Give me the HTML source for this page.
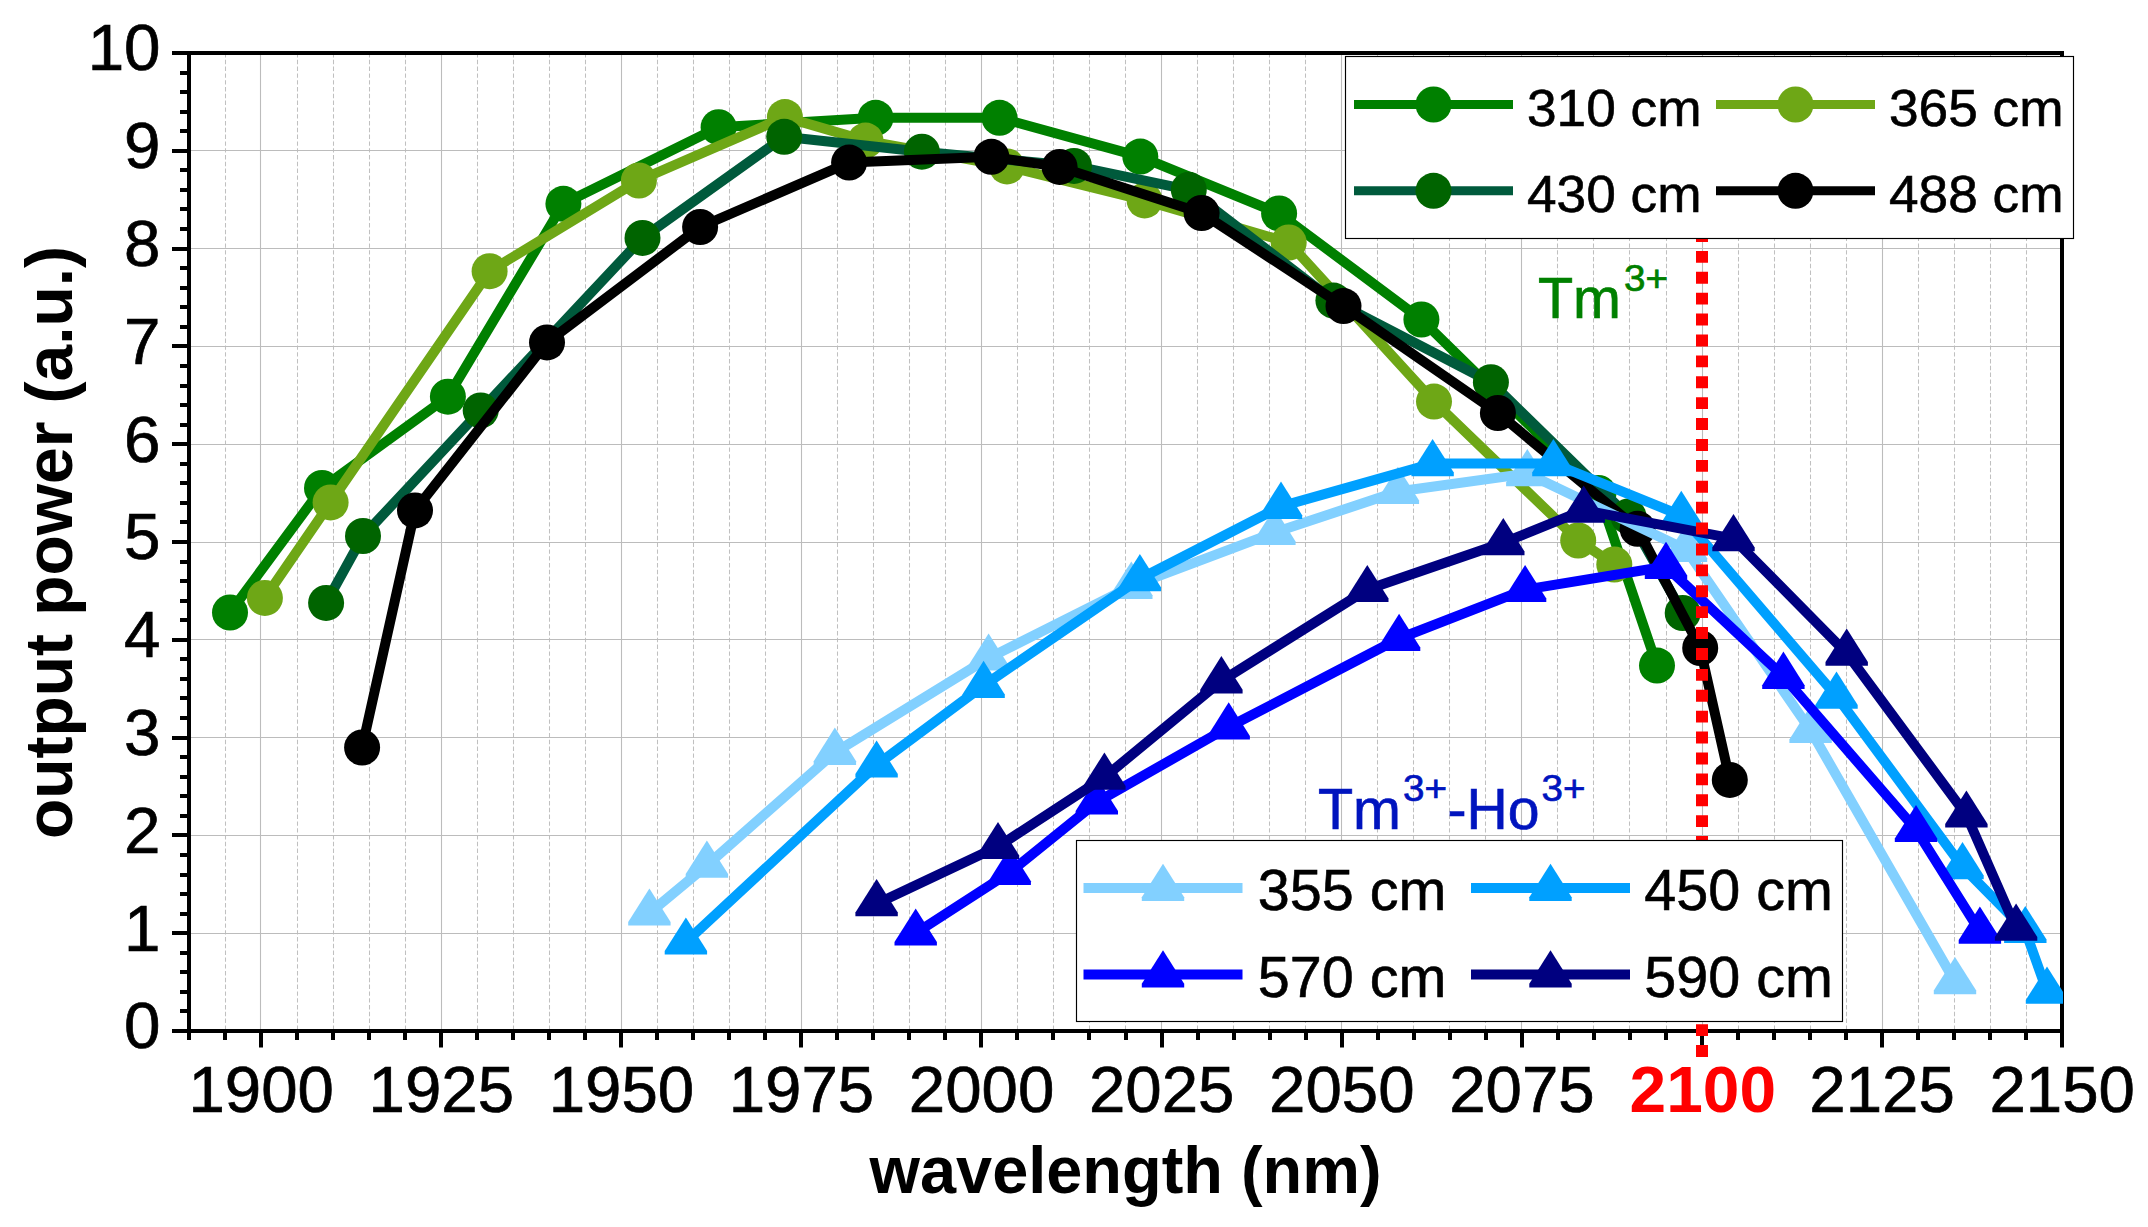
<!DOCTYPE html>
<html lang="en"><head><meta charset="utf-8"><title>output power vs wavelength</title>
<style>html,body{margin:0;padding:0;background:#fff}svg{display:block}text{font-family:"Liberation Sans",sans-serif;fill:#000}.tk{font-size:65.5px;stroke:#000;stroke-width:.7px}.lg{font-size:52px;stroke:#000;stroke-width:.6px}.lg2{font-size:57px;stroke:#000;stroke-width:.6px}.b{font-weight:bold}</style></head><body>
<svg width="2148" height="1227" viewBox="0 0 2148 1227">
<rect width="2148" height="1227" fill="#fff"/>
<defs><clipPath id="pc"><rect x="189.0" y="53.0" width="1874.0" height="978.0"/></clipPath></defs>
<g stroke="#c0c0c0" stroke-width="1.05" stroke-dasharray="4.4 2.4" fill="none">
<line x1="225.5" y1="53.0" x2="225.5" y2="1031.0"/>
<line x1="297.5" y1="53.0" x2="297.5" y2="1031.0"/>
<line x1="333.5" y1="53.0" x2="333.5" y2="1031.0"/>
<line x1="369.5" y1="53.0" x2="369.5" y2="1031.0"/>
<line x1="405.5" y1="53.0" x2="405.5" y2="1031.0"/>
<line x1="477.5" y1="53.0" x2="477.5" y2="1031.0"/>
<line x1="513.5" y1="53.0" x2="513.5" y2="1031.0"/>
<line x1="549.5" y1="53.0" x2="549.5" y2="1031.0"/>
<line x1="585.5" y1="53.0" x2="585.5" y2="1031.0"/>
<line x1="657.5" y1="53.0" x2="657.5" y2="1031.0"/>
<line x1="693.5" y1="53.0" x2="693.5" y2="1031.0"/>
<line x1="729.5" y1="53.0" x2="729.5" y2="1031.0"/>
<line x1="765.5" y1="53.0" x2="765.5" y2="1031.0"/>
<line x1="837.5" y1="53.0" x2="837.5" y2="1031.0"/>
<line x1="873.5" y1="53.0" x2="873.5" y2="1031.0"/>
<line x1="909.5" y1="53.0" x2="909.5" y2="1031.0"/>
<line x1="945.5" y1="53.0" x2="945.5" y2="1031.0"/>
<line x1="1017.5" y1="53.0" x2="1017.5" y2="1031.0"/>
<line x1="1053.5" y1="53.0" x2="1053.5" y2="1031.0"/>
<line x1="1089.5" y1="53.0" x2="1089.5" y2="1031.0"/>
<line x1="1125.5" y1="53.0" x2="1125.5" y2="1031.0"/>
<line x1="1197.5" y1="53.0" x2="1197.5" y2="1031.0"/>
<line x1="1233.5" y1="53.0" x2="1233.5" y2="1031.0"/>
<line x1="1269.5" y1="53.0" x2="1269.5" y2="1031.0"/>
<line x1="1305.5" y1="53.0" x2="1305.5" y2="1031.0"/>
<line x1="1377.5" y1="53.0" x2="1377.5" y2="1031.0"/>
<line x1="1413.5" y1="53.0" x2="1413.5" y2="1031.0"/>
<line x1="1449.5" y1="53.0" x2="1449.5" y2="1031.0"/>
<line x1="1485.5" y1="53.0" x2="1485.5" y2="1031.0"/>
<line x1="1557.5" y1="53.0" x2="1557.5" y2="1031.0"/>
<line x1="1593.5" y1="53.0" x2="1593.5" y2="1031.0"/>
<line x1="1629.5" y1="53.0" x2="1629.5" y2="1031.0"/>
<line x1="1666.5" y1="53.0" x2="1666.5" y2="1031.0"/>
<line x1="1738.5" y1="53.0" x2="1738.5" y2="1031.0"/>
<line x1="1774.5" y1="53.0" x2="1774.5" y2="1031.0"/>
<line x1="1810.5" y1="53.0" x2="1810.5" y2="1031.0"/>
<line x1="1846.5" y1="53.0" x2="1846.5" y2="1031.0"/>
<line x1="1918.5" y1="53.0" x2="1918.5" y2="1031.0"/>
<line x1="1954.5" y1="53.0" x2="1954.5" y2="1031.0"/>
<line x1="1990.5" y1="53.0" x2="1990.5" y2="1031.0"/>
<line x1="2026.5" y1="53.0" x2="2026.5" y2="1031.0"/>
</g>
<g stroke="#bcbcbc" stroke-width="1.1" fill="none">
<line x1="260.5" y1="53.0" x2="260.5" y2="1031.0"/>
<line x1="441.5" y1="53.0" x2="441.5" y2="1031.0"/>
<line x1="621.5" y1="53.0" x2="621.5" y2="1031.0"/>
<line x1="801.5" y1="53.0" x2="801.5" y2="1031.0"/>
<line x1="981.5" y1="53.0" x2="981.5" y2="1031.0"/>
<line x1="1161.5" y1="53.0" x2="1161.5" y2="1031.0"/>
<line x1="1341.5" y1="53.0" x2="1341.5" y2="1031.0"/>
<line x1="1521.5" y1="53.0" x2="1521.5" y2="1031.0"/>
<line x1="1702.5" y1="53.0" x2="1702.5" y2="1031.0"/>
<line x1="1882.5" y1="53.0" x2="1882.5" y2="1031.0"/>
<line x1="189.0" y1="933.5" x2="2062.0" y2="933.5"/>
<line x1="189.0" y1="835.5" x2="2062.0" y2="835.5"/>
<line x1="189.0" y1="737.5" x2="2062.0" y2="737.5"/>
<line x1="189.0" y1="639.5" x2="2062.0" y2="639.5"/>
<line x1="189.0" y1="542.5" x2="2062.0" y2="542.5"/>
<line x1="189.0" y1="444.5" x2="2062.0" y2="444.5"/>
<line x1="189.0" y1="346.5" x2="2062.0" y2="346.5"/>
<line x1="189.0" y1="248.5" x2="2062.0" y2="248.5"/>
<line x1="189.0" y1="150.5" x2="2062.0" y2="150.5"/>
</g>
<g stroke="#000" fill="none">
<rect x="189.0" y="53.0" width="1873.0" height="978.0" stroke-width="4"/>
<g stroke-width="4">
<line x1="189" y1="1031.0" x2="189" y2="1040.0"/>
<line x1="225" y1="1031.0" x2="225" y2="1040.0"/>
<line x1="261" y1="1031.0" x2="261" y2="1047.5"/>
<line x1="297" y1="1031.0" x2="297" y2="1040.0"/>
<line x1="333" y1="1031.0" x2="333" y2="1040.0"/>
<line x1="369" y1="1031.0" x2="369" y2="1040.0"/>
<line x1="405" y1="1031.0" x2="405" y2="1040.0"/>
<line x1="441" y1="1031.0" x2="441" y2="1047.5"/>
<line x1="477" y1="1031.0" x2="477" y2="1040.0"/>
<line x1="513" y1="1031.0" x2="513" y2="1040.0"/>
<line x1="549" y1="1031.0" x2="549" y2="1040.0"/>
<line x1="585" y1="1031.0" x2="585" y2="1040.0"/>
<line x1="621" y1="1031.0" x2="621" y2="1047.5"/>
<line x1="657" y1="1031.0" x2="657" y2="1040.0"/>
<line x1="693" y1="1031.0" x2="693" y2="1040.0"/>
<line x1="729" y1="1031.0" x2="729" y2="1040.0"/>
<line x1="765" y1="1031.0" x2="765" y2="1040.0"/>
<line x1="801" y1="1031.0" x2="801" y2="1047.5"/>
<line x1="837" y1="1031.0" x2="837" y2="1040.0"/>
<line x1="873" y1="1031.0" x2="873" y2="1040.0"/>
<line x1="909" y1="1031.0" x2="909" y2="1040.0"/>
<line x1="945" y1="1031.0" x2="945" y2="1040.0"/>
<line x1="981" y1="1031.0" x2="981" y2="1047.5"/>
<line x1="1017" y1="1031.0" x2="1017" y2="1040.0"/>
<line x1="1053" y1="1031.0" x2="1053" y2="1040.0"/>
<line x1="1089" y1="1031.0" x2="1089" y2="1040.0"/>
<line x1="1126" y1="1031.0" x2="1126" y2="1040.0"/>
<line x1="1162" y1="1031.0" x2="1162" y2="1047.5"/>
<line x1="1198" y1="1031.0" x2="1198" y2="1040.0"/>
<line x1="1234" y1="1031.0" x2="1234" y2="1040.0"/>
<line x1="1270" y1="1031.0" x2="1270" y2="1040.0"/>
<line x1="1306" y1="1031.0" x2="1306" y2="1040.0"/>
<line x1="1342" y1="1031.0" x2="1342" y2="1047.5"/>
<line x1="1378" y1="1031.0" x2="1378" y2="1040.0"/>
<line x1="1414" y1="1031.0" x2="1414" y2="1040.0"/>
<line x1="1450" y1="1031.0" x2="1450" y2="1040.0"/>
<line x1="1486" y1="1031.0" x2="1486" y2="1040.0"/>
<line x1="1522" y1="1031.0" x2="1522" y2="1047.5"/>
<line x1="1558" y1="1031.0" x2="1558" y2="1040.0"/>
<line x1="1594" y1="1031.0" x2="1594" y2="1040.0"/>
<line x1="1630" y1="1031.0" x2="1630" y2="1040.0"/>
<line x1="1666" y1="1031.0" x2="1666" y2="1040.0"/>
<line x1="1702" y1="1031.0" x2="1702" y2="1047.5"/>
<line x1="1738" y1="1031.0" x2="1738" y2="1040.0"/>
<line x1="1774" y1="1031.0" x2="1774" y2="1040.0"/>
<line x1="1810" y1="1031.0" x2="1810" y2="1040.0"/>
<line x1="1846" y1="1031.0" x2="1846" y2="1040.0"/>
<line x1="1882" y1="1031.0" x2="1882" y2="1047.5"/>
<line x1="1918" y1="1031.0" x2="1918" y2="1040.0"/>
<line x1="1954" y1="1031.0" x2="1954" y2="1040.0"/>
<line x1="1990" y1="1031.0" x2="1990" y2="1040.0"/>
<line x1="2026" y1="1031.0" x2="2026" y2="1040.0"/>
<line x1="2062" y1="1031.0" x2="2062" y2="1047.5"/>
<line x1="189.0" y1="1031" x2="172.0" y2="1031"/>
<line x1="189.0" y1="1011" x2="180.0" y2="1011"/>
<line x1="189.0" y1="992" x2="180.0" y2="992"/>
<line x1="189.0" y1="972" x2="180.0" y2="972"/>
<line x1="189.0" y1="953" x2="180.0" y2="953"/>
<line x1="189.0" y1="933" x2="172.0" y2="933"/>
<line x1="189.0" y1="914" x2="180.0" y2="914"/>
<line x1="189.0" y1="894" x2="180.0" y2="894"/>
<line x1="189.0" y1="875" x2="180.0" y2="875"/>
<line x1="189.0" y1="855" x2="180.0" y2="855"/>
<line x1="189.0" y1="835" x2="172.0" y2="835"/>
<line x1="189.0" y1="816" x2="180.0" y2="816"/>
<line x1="189.0" y1="796" x2="180.0" y2="796"/>
<line x1="189.0" y1="777" x2="180.0" y2="777"/>
<line x1="189.0" y1="757" x2="180.0" y2="757"/>
<line x1="189.0" y1="738" x2="172.0" y2="738"/>
<line x1="189.0" y1="718" x2="180.0" y2="718"/>
<line x1="189.0" y1="698" x2="180.0" y2="698"/>
<line x1="189.0" y1="679" x2="180.0" y2="679"/>
<line x1="189.0" y1="659" x2="180.0" y2="659"/>
<line x1="189.0" y1="640" x2="172.0" y2="640"/>
<line x1="189.0" y1="620" x2="180.0" y2="620"/>
<line x1="189.0" y1="601" x2="180.0" y2="601"/>
<line x1="189.0" y1="581" x2="180.0" y2="581"/>
<line x1="189.0" y1="562" x2="180.0" y2="562"/>
<line x1="189.0" y1="542" x2="172.0" y2="542"/>
<line x1="189.0" y1="522" x2="180.0" y2="522"/>
<line x1="189.0" y1="503" x2="180.0" y2="503"/>
<line x1="189.0" y1="483" x2="180.0" y2="483"/>
<line x1="189.0" y1="464" x2="180.0" y2="464"/>
<line x1="189.0" y1="444" x2="172.0" y2="444"/>
<line x1="189.0" y1="425" x2="180.0" y2="425"/>
<line x1="189.0" y1="405" x2="180.0" y2="405"/>
<line x1="189.0" y1="386" x2="180.0" y2="386"/>
<line x1="189.0" y1="366" x2="180.0" y2="366"/>
<line x1="189.0" y1="346" x2="172.0" y2="346"/>
<line x1="189.0" y1="327" x2="180.0" y2="327"/>
<line x1="189.0" y1="307" x2="180.0" y2="307"/>
<line x1="189.0" y1="288" x2="180.0" y2="288"/>
<line x1="189.0" y1="268" x2="180.0" y2="268"/>
<line x1="189.0" y1="249" x2="172.0" y2="249"/>
<line x1="189.0" y1="229" x2="180.0" y2="229"/>
<line x1="189.0" y1="209" x2="180.0" y2="209"/>
<line x1="189.0" y1="190" x2="180.0" y2="190"/>
<line x1="189.0" y1="170" x2="180.0" y2="170"/>
<line x1="189.0" y1="151" x2="172.0" y2="151"/>
<line x1="189.0" y1="131" x2="180.0" y2="131"/>
<line x1="189.0" y1="112" x2="180.0" y2="112"/>
<line x1="189.0" y1="92" x2="180.0" y2="92"/>
<line x1="189.0" y1="73" x2="180.0" y2="73"/>
<line x1="189.0" y1="53" x2="172.0" y2="53"/>
</g></g>
<g clip-path="url(#pc)">
<polyline points="230.0,612.5 322.0,488.0 447.9,396.7 563.4,203.8 718.6,127.2 875.6,117.8 999.5,117.8 1140.3,156.6 1279.1,213.4 1421.4,319.5 1598.5,492.9 1657.0,665.6" fill="none" stroke="#008000" stroke-width="10" stroke-linejoin="round"/>
<g fill="#008000"><circle cx="230.0" cy="612.5" r="18"/><circle cx="322.0" cy="488.0" r="18"/><circle cx="447.9" cy="396.7" r="18"/><circle cx="563.4" cy="203.8" r="18"/><circle cx="718.6" cy="127.2" r="18"/><circle cx="875.6" cy="117.8" r="18"/><circle cx="999.5" cy="117.8" r="18"/><circle cx="1140.3" cy="156.6" r="18"/><circle cx="1279.1" cy="213.4" r="18"/><circle cx="1421.4" cy="319.5" r="18"/><circle cx="1598.5" cy="492.9" r="18"/><circle cx="1657.0" cy="665.6" r="18"/></g>
<polyline points="264.9,597.9 330.6,502.4 489.6,271.2 638.9,180.5 784.9,117.1 865.5,140.6 1007.0,166.4 1144.6,200.4 1288.7,242.5 1434.0,401.6 1578.2,540.5 1614.3,564.5" fill="none" stroke="#6ea716" stroke-width="10" stroke-linejoin="round"/>
<g fill="#6ea716"><circle cx="264.9" cy="597.9" r="18"/><circle cx="330.6" cy="502.4" r="18"/><circle cx="489.6" cy="271.2" r="18"/><circle cx="638.9" cy="180.5" r="18"/><circle cx="784.9" cy="117.1" r="18"/><circle cx="865.5" cy="140.6" r="18"/><circle cx="1007.0" cy="166.4" r="18"/><circle cx="1144.6" cy="200.4" r="18"/><circle cx="1288.7" cy="242.5" r="18"/><circle cx="1434.0" cy="401.6" r="18"/><circle cx="1578.2" cy="540.5" r="18"/><circle cx="1614.3" cy="564.5" r="18"/></g>
<polyline points="326.1,602.9 363.0,536.0 480.7,410.4 642.5,237.9 784.2,136.8 921.9,151.7 1074.0,165.9 1188.8,189.8 1333.4,300.6 1490.9,382.2 1628.5,516.5 1682.7,613.0" fill="none" stroke="#005a3c" stroke-width="10" stroke-linejoin="round"/>
<g fill="#006400"><circle cx="326.1" cy="602.9" r="18"/><circle cx="363.0" cy="536.0" r="18"/><circle cx="480.7" cy="410.4" r="18"/><circle cx="642.5" cy="237.9" r="18"/><circle cx="784.2" cy="136.8" r="18"/><circle cx="921.9" cy="151.7" r="18"/><circle cx="1074.0" cy="165.9" r="18"/><circle cx="1188.8" cy="189.8" r="18"/><circle cx="1333.4" cy="300.6" r="18"/><circle cx="1490.9" cy="382.2" r="18"/><circle cx="1628.5" cy="516.5" r="18"/><circle cx="1682.7" cy="613.0" r="18"/></g>
<polyline points="362.1,747.5 415.0,510.4 547.0,342.4 700.1,227.0 849.1,162.6 991.4,156.8 1059.6,166.9 1201.6,213.0 1343.5,306.1 1497.9,413.0 1637.6,528.8 1700.2,648.0 1729.8,779.9" fill="none" stroke="#000000" stroke-width="10" stroke-linejoin="round"/>
<g fill="#000000"><circle cx="362.1" cy="747.5" r="18"/><circle cx="415.0" cy="510.4" r="18"/><circle cx="547.0" cy="342.4" r="18"/><circle cx="700.1" cy="227.0" r="18"/><circle cx="849.1" cy="162.6" r="18"/><circle cx="991.4" cy="156.8" r="18"/><circle cx="1059.6" cy="166.9" r="18"/><circle cx="1201.6" cy="213.0" r="18"/><circle cx="1343.5" cy="306.1" r="18"/><circle cx="1497.9" cy="413.0" r="18"/><circle cx="1637.6" cy="528.8" r="18"/><circle cx="1700.2" cy="648.0" r="18"/><circle cx="1729.8" cy="779.9" r="18"/></g>
<polyline points="649.4,913.1 706.9,865.3 834.9,752.4 988.6,658.1 1131.3,586.4 1274.4,532.6 1397.9,491.5 1527.3,473.6 1686.0,549.4 1810.6,730.5 1955.0,981.7" fill="none" stroke="#82d0ff" stroke-width="10" stroke-linejoin="round"/>
<g fill="#82d0ff"><polygon points="649.4,888.4 670.6,922.0 670.6,925.6 628.2,925.6 628.2,922.0"/><polygon points="706.9,840.5 728.1,874.1 728.1,877.8 685.7,877.8 685.7,874.1"/><polygon points="834.9,727.6 856.1,761.2 856.1,764.9 813.7,764.9 813.7,761.2"/><polygon points="988.6,633.4 1009.8,667.0 1009.8,670.6 967.4,670.6 967.4,667.0"/><polygon points="1131.3,561.6 1152.5,595.2 1152.5,598.9 1110.1,598.9 1110.1,595.2"/><polygon points="1274.4,507.9 1295.6,541.5 1295.6,545.1 1253.2,545.1 1253.2,541.5"/><polygon points="1397.9,466.8 1419.1,500.4 1419.1,504.1 1376.7,504.1 1376.7,500.4"/><polygon points="1527.3,448.9 1548.5,482.5 1548.5,486.2 1506.1,486.2 1506.1,482.5"/><polygon points="1686.0,524.6 1707.2,558.2 1707.2,561.9 1664.8,561.9 1664.8,558.2"/><polygon points="1810.6,705.8 1831.8,739.4 1831.8,743.0 1789.4,743.0 1789.4,739.4"/><polygon points="1955.0,957.0 1976.2,990.6 1976.2,994.2 1933.8,994.2 1933.8,990.6"/></g>
<polyline points="685.9,942.1 876.6,765.1 983.6,685.5 1139.9,578.7 1281.0,506.4 1432.6,463.6 1553.4,463.6 1681.3,515.5 1836.5,696.2 1962.5,866.7 2025.3,930.6 2047.0,991.3" fill="none" stroke="#00a0ff" stroke-width="10" stroke-linejoin="round"/>
<g fill="#00a0ff"><polygon points="685.9,917.4 707.1,951.0 707.1,954.6 664.7,954.6 664.7,951.0"/><polygon points="876.6,740.4 897.8,774.0 897.8,777.6 855.4,777.6 855.4,774.0"/><polygon points="983.6,660.8 1004.8,694.4 1004.8,698.0 962.4,698.0 962.4,694.4"/><polygon points="1139.9,554.0 1161.1,587.6 1161.1,591.2 1118.7,591.2 1118.7,587.6"/><polygon points="1281.0,481.6 1302.2,515.2 1302.2,518.9 1259.8,518.9 1259.8,515.2"/><polygon points="1432.6,438.9 1453.8,472.5 1453.8,476.2 1411.4,476.2 1411.4,472.5"/><polygon points="1553.4,438.9 1574.6,472.5 1574.6,476.2 1532.2,476.2 1532.2,472.5"/><polygon points="1681.3,490.8 1702.5,524.4 1702.5,528.0 1660.1,528.0 1660.1,524.4"/><polygon points="1836.5,671.5 1857.7,705.1 1857.7,708.8 1815.3,708.8 1815.3,705.1"/><polygon points="1962.5,842.0 1983.7,875.6 1983.7,879.2 1941.3,879.2 1941.3,875.6"/><polygon points="2025.3,905.9 2046.5,939.5 2046.5,943.1 2004.1,943.1 2004.1,939.5"/><polygon points="2047.0,966.5 2068.2,1000.1 2068.2,1003.8 2025.8,1003.8 2025.8,1000.1"/></g>
<polyline points="915.7,933.1 1009.7,872.4 1096.8,802.1 1228.7,727.0 1399.1,638.5 1525.1,589.6 1666.0,566.5 1783.4,676.4 1916.0,829.6 1979.9,931.3" fill="none" stroke="#0000ff" stroke-width="10" stroke-linejoin="round"/>
<g fill="#0000ff"><polygon points="915.7,908.4 936.9,942.0 936.9,945.6 894.5,945.6 894.5,942.0"/><polygon points="1009.7,847.6 1030.9,881.2 1030.9,884.9 988.5,884.9 988.5,881.2"/><polygon points="1096.8,777.4 1118.0,811.0 1118.0,814.6 1075.6,814.6 1075.6,811.0"/><polygon points="1228.7,702.2 1249.9,735.9 1249.9,739.5 1207.5,739.5 1207.5,735.9"/><polygon points="1399.1,613.8 1420.3,647.4 1420.3,651.0 1377.9,651.0 1377.9,647.4"/><polygon points="1525.1,564.9 1546.3,598.5 1546.3,602.1 1503.9,602.1 1503.9,598.5"/><polygon points="1666.0,541.8 1687.2,575.4 1687.2,579.0 1644.8,579.0 1644.8,575.4"/><polygon points="1783.4,651.6 1804.6,685.2 1804.6,688.9 1762.2,688.9 1762.2,685.2"/><polygon points="1916.0,804.9 1937.2,838.5 1937.2,842.1 1894.8,842.1 1894.8,838.5"/><polygon points="1979.9,906.5 2001.1,940.1 2001.1,943.8 1958.7,943.8 1958.7,940.1"/></g>
<polyline points="876.6,903.7 998.0,846.6 1104.4,777.3 1221.4,680.9 1367.3,589.6 1503.3,542.7 1583.7,510.2 1733.5,538.7 1846.7,653.2 1966.4,815.1 2016.1,928.3" fill="none" stroke="#000080" stroke-width="10" stroke-linejoin="round"/>
<g fill="#000080"><polygon points="876.6,879.0 897.8,912.6 897.8,916.2 855.4,916.2 855.4,912.6"/><polygon points="998.0,821.9 1019.2,855.5 1019.2,859.1 976.8,859.1 976.8,855.5"/><polygon points="1104.4,752.5 1125.6,786.1 1125.6,789.8 1083.2,789.8 1083.2,786.1"/><polygon points="1221.4,656.1 1242.6,689.8 1242.6,693.4 1200.2,693.4 1200.2,689.8"/><polygon points="1367.3,564.9 1388.5,598.5 1388.5,602.1 1346.1,602.1 1346.1,598.5"/><polygon points="1503.3,518.0 1524.5,551.6 1524.5,555.2 1482.1,555.2 1482.1,551.6"/><polygon points="1583.7,485.4 1604.9,519.0 1604.9,522.8 1562.5,522.8 1562.5,519.0"/><polygon points="1733.5,514.0 1754.7,547.6 1754.7,551.2 1712.3,551.2 1712.3,547.6"/><polygon points="1846.7,628.5 1867.9,662.1 1867.9,665.8 1825.5,665.8 1825.5,662.1"/><polygon points="1966.4,790.4 1987.6,824.0 1987.6,827.6 1945.2,827.6 1945.2,824.0"/><polygon points="2016.1,903.5 2037.3,937.1 2037.3,940.8 1994.9,940.8 1994.9,937.1"/></g>
</g>
<line x1="1702" y1="229.98" x2="1702" y2="1057" stroke="#ff0000" stroke-width="12" stroke-dasharray="11.9 9"/>
<rect x="1345.5" y="56.5" width="728" height="182" fill="#fff" stroke="#000" stroke-width="1.15"/>
<line x1="1354" y1="104.5" x2="1513" y2="104.5" stroke="#008000" stroke-width="9"/>
<g fill="#008000"><circle cx="1433.5" cy="104.5" r="18"/></g>
<text class="lg" x="1527" y="125.7" textLength="174.5" lengthAdjust="spacingAndGlyphs">310 cm</text>
<line x1="1716" y1="104.5" x2="1875" y2="104.5" stroke="#6ea716" stroke-width="9"/>
<g fill="#6ea716"><circle cx="1795.5" cy="104.5" r="18"/></g>
<text class="lg" x="1889" y="125.7" textLength="174.5" lengthAdjust="spacingAndGlyphs">365 cm</text>
<line x1="1354" y1="190.8" x2="1513" y2="190.8" stroke="#005a3c" stroke-width="9"/>
<g fill="#006400"><circle cx="1433.5" cy="190.8" r="18"/></g>
<text class="lg" x="1527" y="212.3" textLength="174.5" lengthAdjust="spacingAndGlyphs">430 cm</text>
<line x1="1716" y1="190.8" x2="1875" y2="190.8" stroke="#000000" stroke-width="9"/>
<g fill="#000000"><circle cx="1795.5" cy="190.8" r="18"/></g>
<text class="lg" x="1889" y="212.3" textLength="174.5" lengthAdjust="spacingAndGlyphs">488 cm</text>
<rect x="1076.5" y="840.5" width="766" height="181" fill="#fff" stroke="#000" stroke-width="1.15"/>
<line x1="1083.5" y1="888" x2="1242.5" y2="888" stroke="#82d0ff" stroke-width="10"/>
<g fill="#82d0ff"><polygon points="1163.0,863.7 1184.2,897.3 1184.2,901.0 1141.8,901.0 1141.8,897.3"/></g>
<text class="lg2" x="1257.8" y="909.5" textLength="188.5" lengthAdjust="spacingAndGlyphs">355 cm</text>
<line x1="1471.0" y1="888" x2="1630.0" y2="888" stroke="#00a0ff" stroke-width="10"/>
<g fill="#00a0ff"><polygon points="1550.5,863.7 1571.7,897.3 1571.7,901.0 1529.3,901.0 1529.3,897.3"/></g>
<text class="lg2" x="1644.3" y="909.5" textLength="188.5" lengthAdjust="spacingAndGlyphs">450 cm</text>
<line x1="1083.5" y1="974.5" x2="1242.5" y2="974.5" stroke="#0000ff" stroke-width="10"/>
<g fill="#0000ff"><polygon points="1163.0,950.2 1184.2,983.8 1184.2,987.5 1141.8,987.5 1141.8,983.8"/></g>
<text class="lg2" x="1257.8" y="996.5" textLength="188.5" lengthAdjust="spacingAndGlyphs">570 cm</text>
<line x1="1471.0" y1="974.5" x2="1630.0" y2="974.5" stroke="#000080" stroke-width="10"/>
<g fill="#000080"><polygon points="1550.5,950.2 1571.7,983.8 1571.7,987.5 1529.3,987.5 1529.3,983.8"/></g>
<text class="lg2" x="1644.3" y="996.5" textLength="188.5" lengthAdjust="spacingAndGlyphs">590 cm</text>
<text class="tk" x="261.2" y="1111.6" text-anchor="middle" textLength="145.5" lengthAdjust="spacingAndGlyphs">1900</text>
<text class="tk" x="441.3" y="1111.6" text-anchor="middle" textLength="145.5" lengthAdjust="spacingAndGlyphs">1925</text>
<text class="tk" x="621.4" y="1111.6" text-anchor="middle" textLength="145.5" lengthAdjust="spacingAndGlyphs">1950</text>
<text class="tk" x="801.5" y="1111.6" text-anchor="middle" textLength="145.5" lengthAdjust="spacingAndGlyphs">1975</text>
<text class="tk" x="981.6" y="1111.6" text-anchor="middle" textLength="145.5" lengthAdjust="spacingAndGlyphs">2000</text>
<text class="tk" x="1161.7" y="1111.6" text-anchor="middle" textLength="145.5" lengthAdjust="spacingAndGlyphs">2025</text>
<text class="tk" x="1341.8" y="1111.6" text-anchor="middle" textLength="145.5" lengthAdjust="spacingAndGlyphs">2050</text>
<text class="tk" x="1521.9" y="1111.6" text-anchor="middle" textLength="145.5" lengthAdjust="spacingAndGlyphs">2075</text>
<text class="tk b" x="1702.8" y="1111.6" text-anchor="middle" style="fill:#ff0000;stroke:none" textLength="146.5" lengthAdjust="spacingAndGlyphs">2100</text>
<text class="tk" x="1882.1" y="1111.6" text-anchor="middle" textLength="145.5" lengthAdjust="spacingAndGlyphs">2125</text>
<text class="tk" x="2062.2" y="1111.6" text-anchor="middle" textLength="145.5" lengthAdjust="spacingAndGlyphs">2150</text>
<text class="tk" x="160.5" y="1048.3" text-anchor="end">0</text>
<text class="tk" x="160.5" y="950.5" text-anchor="end">1</text>
<text class="tk" x="160.5" y="852.7" text-anchor="end">2</text>
<text class="tk" x="160.5" y="754.9" text-anchor="end">3</text>
<text class="tk" x="160.5" y="657.1" text-anchor="end">4</text>
<text class="tk" x="160.5" y="559.3" text-anchor="end">5</text>
<text class="tk" x="160.5" y="461.5" text-anchor="end">6</text>
<text class="tk" x="160.5" y="363.7" text-anchor="end">7</text>
<text class="tk" x="160.5" y="265.9" text-anchor="end">8</text>
<text class="tk" x="160.5" y="168.1" text-anchor="end">9</text>
<text class="tk" x="160.5" y="70.3" text-anchor="end">10</text>
<text class="b" x="1125.5" y="1193.4" text-anchor="middle" style="font-size:67px" textLength="512" lengthAdjust="spacingAndGlyphs">wavelength (nm)</text>
<text class="b" transform="translate(71.5,542.5) rotate(-90)" text-anchor="middle" style="font-size:67px" textLength="593" lengthAdjust="spacingAndGlyphs">output power (a.u.)</text>
<text style="fill:#008000;stroke:#008000;stroke-width:.7px"><tspan x="1538" y="318.3" style="font-size:57px" textLength="83" lengthAdjust="spacingAndGlyphs">Tm</tspan><tspan x="1624" y="290.5" style="font-size:37.5px" textLength="44" lengthAdjust="spacingAndGlyphs">3+</tspan></text>
<text style="fill:#0014be;stroke:#0014be;stroke-width:.7px"><tspan x="1318" y="828.8" style="font-size:57px" textLength="83" lengthAdjust="spacingAndGlyphs">Tm</tspan><tspan x="1403" y="801.0" style="font-size:37.5px" textLength="44" lengthAdjust="spacingAndGlyphs">3+</tspan><tspan x="1447.5" y="828.8" style="font-size:57px" textLength="92" lengthAdjust="spacingAndGlyphs">-Ho</tspan><tspan x="1541.5" y="801.0" style="font-size:37.5px" textLength="44" lengthAdjust="spacingAndGlyphs">3+</tspan></text>
</svg></body></html>
